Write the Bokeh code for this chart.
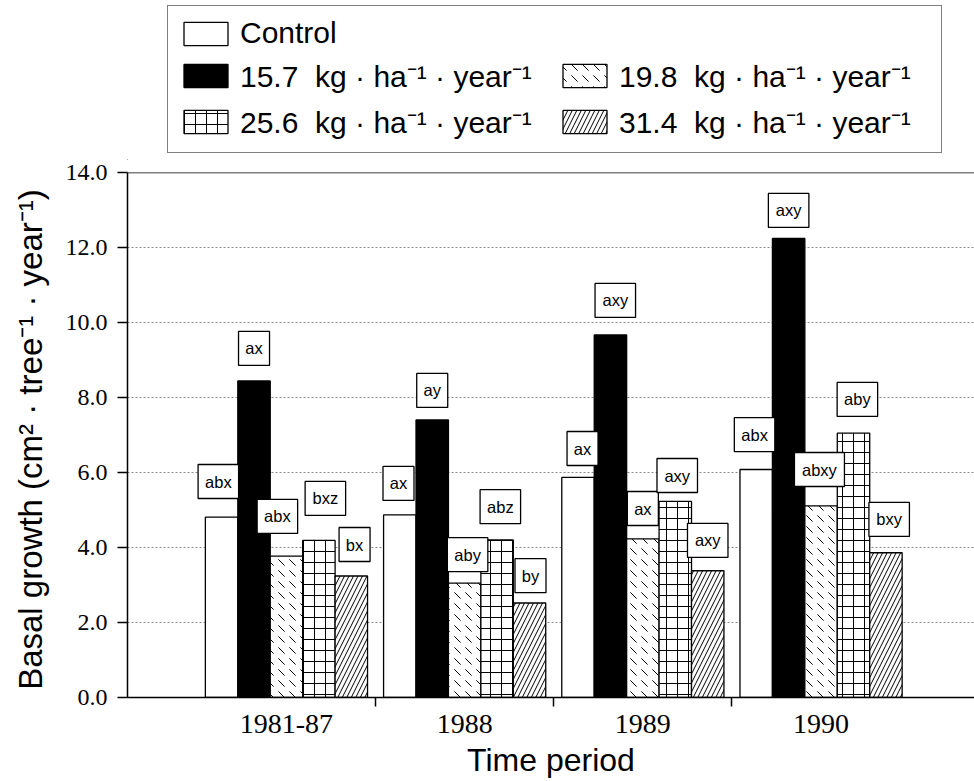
from bokeh.plotting import figure
from bokeh.layouts import column
from bokeh.models import (Range1d, FixedTicker, PrintfTickFormatter, Legend,
                          LegendItem, Span, ColumnDataSource)
from bokeh.embed import file_html
from bokeh.resources import INLINE
from bokeh.core.properties import value

# ---------------- data ----------------
periods = ["1981-87", "1988", "1989", "1990"]
series_names = ["Control",
                "15.7  kg · ha⁻¹ · year⁻¹",
                "19.8  kg · ha⁻¹ · year⁻¹",
                "25.6  kg · ha⁻¹ · year⁻¹",
                "31.4  kg · ha⁻¹ · year⁻¹"]
control = [4.81, 4.87, 5.87, 6.08]
n157 = [8.44, 7.40, 9.67, 12.24]
n198 = [3.77, 3.05, 4.23, 5.11]
n256 = [4.19, 4.20, 5.23, 7.05]
n314 = [3.24, 2.52, 3.38, 3.86]

# significance letters
let_control = ["abx", "ax", "ax", "abx"]
let_157 = ["ax", "ay", "axy", "axy"]
let_198 = ["abx", "aby", "ax", "abxy"]
let_256 = ["bxz", "abz", "axy", "aby"]
let_314 = ["bx", "by", "axy", "bxy"]

# label box heights (data units) and horizontal nudges (in bar widths)
ly_control = [5.76, 5.71, 6.64, 7.01]
ly_157 = [9.31, 8.19, 10.59, 12.99]
ly_198 = [4.83, 3.81, 5.04, 6.08]
ly_256 = [5.31, 5.09, 5.92, 7.95]
ly_314 = [4.08, 3.25, 4.19, 4.75]
ldx_control = [-0.1, -0.04, 0.14, -0.05]
ldx_157 = [0.0, 0.0, 0.15, 0.0]
ldx_198 = [-0.28, 0.09, 0.0, -0.05]
ldx_256 = [0.2, 0.1, 0.06, 0.12]
ldx_314 = [0.1, 0.03, 0.0, 0.1]

values = [control, n157, n198, n256, n314]
letters = [let_control, let_157, let_198, let_256, let_314]
label_y = [ly_control, ly_157, ly_198, ly_256, ly_314]
label_dx = [ldx_control, ldx_157, ldx_198, ldx_256, ldx_314]

# ---------------- style ----------------
fills = ["white", "black", "white", "white", "white"]
hatches = [None, None, "`", "+", "/"]
hatch_scales = [10, 10, 11, 11, 9]
BW = 0.182


def bar_style(j):
    kw = dict(fill_color=fills[j], line_color="black", line_width=1.3)
    if hatches[j]:
        kw.update(hatch_pattern=hatches[j], hatch_color="black",
                  hatch_scale=hatch_scales[j], hatch_weight=1.0)
    return kw


p = figure(width=974, height=621,
           x_range=Range1d(-0.892, 3.861), y_range=Range1d(0, 14),
           output_backend="svg", toolbar_location=None,
           min_border_left=127, min_border_right=0,
           min_border_top=12, min_border_bottom=84)
p.outline_line_color = None
p.background_fill_color = "white"
p.border_fill_color = "white"

p.xgrid.visible = False
p.ygrid.grid_line_color = "#8a8a8a"
p.ygrid.grid_line_dash = "2 2"
p.ygrid.grid_line_width = 1

n_groups = len(periods)
for j, vals in enumerate(values):
    xs = [g + (j - 2) * BW for g in range(n_groups)]
    src = ColumnDataSource(dict(x=xs, top=vals))
    p.vbar(x="x", top="top", bottom=0, width=BW, source=src, **bar_style(j))

# label boxes
for j in range(len(values)):
    xs = [g + (j - 2) * BW + label_dx[j][g] * BW for g in range(n_groups)]
    ys = label_y[j]
    txt = letters[j]
    widths = [9.5 * len(t) + 12 for t in txt]
    src = ColumnDataSource(dict(x=xs, y=ys, t=txt, w=widths))
    p.rect(x="x", y="y", width="w", height=34, width_units="screen",
           height_units="screen", source=src, fill_color="white",
           line_color="black", line_width=1.3)
    p.text(x="x", y="y", text="t", source=src, text_align="center",
           text_baseline="middle", text_font=value("Liberation Sans"),
           text_font_size="16.5px", text_color="black")

# top frame line
p.add_layout(Span(location=14, dimension="width", line_color="black",
                  line_width=1.5))

# axes
xa = p.xaxis[0]
xa.ticker = FixedTicker(ticks=list(range(n_groups)), minor_ticks=[0.5, 1.5, 2.5])
xa.major_label_overrides = {i: periods[i] for i in range(n_groups)}
xa.major_tick_line_color = None
xa.major_tick_out = 0
xa.major_tick_in = 0
xa.minor_tick_out = 9
xa.minor_tick_in = 0
xa.minor_tick_line_color = "black"
xa.minor_tick_line_width = 1.5
xa.axis_line_width = 1.5
xa.axis_line_color = "black"
xa.major_label_text_font = "Liberation Serif"
xa.major_label_text_font_size = "28px"
xa.major_label_text_color = "black"
xa.major_label_standoff = 8
xa.axis_label = "Time period"
xa.axis_label_text_font = "Liberation Sans"
xa.axis_label_text_font_size = "32px"
xa.axis_label_text_font_style = "normal"
xa.axis_label_text_color = "black"
xa.axis_label_standoff = 6

ya = p.yaxis[0]
ya.ticker = FixedTicker(ticks=[0, 2, 4, 6, 8, 10, 12, 14])
ya.formatter = PrintfTickFormatter(format="%.1f")
ya.major_tick_out = 10
ya.major_tick_in = 0
ya.major_tick_line_width = 1.5
ya.major_tick_line_color = "black"
ya.minor_tick_line_color = None
ya.axis_line_width = 1.5
ya.axis_line_color = "black"
ya.major_label_text_font = "Liberation Serif"
ya.major_label_text_font_size = "24px"
ya.major_label_text_color = "black"
ya.major_label_standoff = 10
ya.axis_label = "Basal growth  (cm² · tree⁻¹ · year⁻¹)"
ya.axis_label_text_font = "Liberation Sans"
ya.axis_label_text_font_size = "33px"
ya.axis_label_text_font_style = "normal"
ya.axis_label_text_color = "black"
ya.axis_label_standoff = 14

# ---------------- legend figure ----------------
lf = figure(width=974, height=160, x_axis_type=None, y_axis_type=None,
            x_range=Range1d(0, 1), y_range=Range1d(0, 1),
            output_backend="svg", toolbar_location=None,
            min_border=0, min_border_left=0, min_border_right=0,
            min_border_top=0, min_border_bottom=0)
lf.outline_line_color = None
lf.xgrid.visible = False
lf.ygrid.visible = False
lf.border_fill_color = "white"

# legend proxies (kept outside the visible range of the legend strip)
proxies = [lf.vbar(x=[-5], top=[-5], bottom=[-6], width=1, **bar_style(j))
           for j in range(5)]
blank = lf.vbar(x=[-5], top=[-5], bottom=[-6], width=1,
                fill_alpha=0, line_alpha=0)
items = [LegendItem(label=series_names[0], renderers=[proxies[0]]),
         LegendItem(label=" ", renderers=[blank]),
         LegendItem(label=series_names[1], renderers=[proxies[1]]),
         LegendItem(label=series_names[2], renderers=[proxies[2]]),
         LegendItem(label=series_names[3], renderers=[proxies[3]]),
         LegendItem(label=series_names[4], renderers=[proxies[4]])]
legend = Legend(items=items, orientation="horizontal", ncols=2,
                location=(40, 7))
legend.label_text_font = "Liberation Sans"
legend.label_text_font_size = "30px"
legend.label_text_color = "black"
legend.glyph_width = 55
legend.glyph_height = 29
legend.label_standoff = 7
legend.label_width = 312
legend.spacing = 5
legend.padding = 10
legend.border_line_color = "black"
legend.border_line_width = 1.5
legend.background_fill_color = "white"
legend.background_fill_alpha = 1
lf.add_layout(legend, "center")

layout = column(lf, p, spacing=0)
open("out.html", "w").write(file_html(layout, INLINE))
